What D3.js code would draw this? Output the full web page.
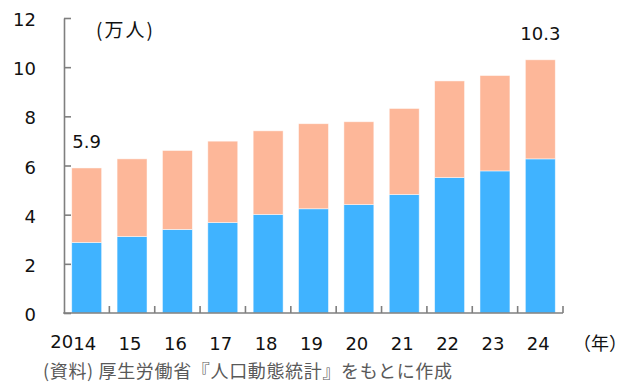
<!DOCTYPE html>
<html>
<head>
<meta charset="utf-8">
<script src="https://cdn.jsdelivr.net/npm/d3@7"></script>
<style>
  html, body { margin: 0; padding: 0; background: #fff; }
  svg { display: block; }
  .num { font-family: "DejaVu Sans", Verdana, sans-serif; font-size: 18px; fill: #111; }
  .jp { font-family: "Noto Sans CJK JP", sans-serif; fill: #111; }
</style>
</head>
<body>
<svg id="chart" width="632" height="382"></svg>
<script>
// Years shown on the horizontal axis
const years = [2014, 2015, 2016, 2017, 2018, 2019, 2020, 2021, 2022, 2023, 2024];
// Lower (blue) segment of each bar, 万人
const lowerValues = [2.87, 3.11, 3.40, 3.68, 4.01, 4.24, 4.41, 4.82, 5.51, 5.78, 6.27];
// Upper (salmon) segment of each bar, 万人
const upperValues = [3.03, 3.16, 3.21, 3.31, 3.40, 3.46, 3.37, 3.50, 3.93, 3.88, 4.03];
// Totals printed above the first and last bars
const totalLabels = [{ year: 2014, text: "5.9", value: 5.9 }, { year: 2024, text: "10.3", value: 10.3 }];
// Vertical tick values
const yTicks = [0, 2, 4, 6, 8, 10, 12];

const colors = { lower: "#40B3FF", upper: "#FDB799" };

const svg = d3.select("#chart");
const plotLeft = 64, plotRight = 563, plotTop = 18, plotBottom = 313;

const pad = 0.34;
const x = d3.scaleBand().domain(years).range([plotLeft, plotRight]).paddingInner(pad).paddingOuter(pad / 2);
const y = d3.scaleLinear().domain([0, 12]).range([plotBottom, plotTop]);

const rows = years.map((yr, i) => ({ year: yr, lower: lowerValues[i], upper: upperValues[i] }));
const layers = d3.stack().keys(["lower", "upper"])(rows);

// Stacked bars
svg.append("g").selectAll("g")
  .data(layers)
  .join("g")
    .attr("fill", d => colors[d.key])
  .selectAll("rect")
  .data(d => d)
  .join("rect")
    .attr("x", d => x(d.data.year))
    .attr("width", x.bandwidth())
    .attr("y", d => y(d[1]))
    .attr("height", d => y(d[0]) - y(d[1]))
    .attr("stroke", "#fff")
    .attr("stroke-opacity", 0.6)
    .attr("stroke-width", 0.8);

// Y axis with inward ticks
const yAxis = svg.append("g")
  .attr("transform", `translate(${plotLeft},0)`)
  .call(d3.axisLeft(y).tickValues(yTicks).tickSizeInner(-7).tickSizeOuter(0).tickPadding(28));
yAxis.attr("font-family", null).attr("font-size", null);
yAxis.select(".domain").attr("stroke", "#7f7f7f").attr("stroke-width", 1.6);
yAxis.selectAll(".tick line").attr("stroke", "#7f7f7f").attr("stroke-width", 1.6);
yAxis.selectAll(".tick text").attr("class", "num").attr("dy", "0.42em").attr("fill", null);

// X axis: baseline, category boundary ticks and labels
const step = x.step();
const boundaries = d3.range(1, years.length + 1).map(k => plotLeft + k * step);
const xAxis = svg.append("g").attr("transform", `translate(0,${plotBottom})`);
xAxis.append("line")
  .attr("x1", plotLeft - 0.8).attr("x2", plotRight)
  .attr("stroke", "#7f7f7f").attr("stroke-width", 1.6);
xAxis.selectAll("line.bt")
  .data(boundaries)
  .join("line")
    .attr("class", "bt")
    .attr("x1", d => d).attr("x2", d => d)
    .attr("y1", 0).attr("y2", -7)
    .attr("stroke", "#7f7f7f").attr("stroke-width", 1.6);

svg.append("g").selectAll("text")
  .data(years)
  .join("text")
    .attr("class", "num")
    .attr("x", d => x(d) + x.bandwidth() / 2 - 2)
    .attr("y", 350)
    .attr("text-anchor", "middle")
    .text(d => String(d).slice(2));

// Century prefix for the first year
svg.append("text")
  .attr("class", "num")
  .attr("x", x(years[0]) + x.bandwidth() / 2 - 2 - 11.5)
  .attr("y", 348)
  .attr("text-anchor", "end")
  .text(String(years[0]).slice(0, 2));

// Unit labels
svg.append("text").attr("class", "jp").attr("x", 96).attr("y", 37).attr("font-size", 19)
  .attr("textLength", 57).attr("lengthAdjust", "spacing").text("(万人)");
svg.append("text").attr("class", "jp").attr("x", 573).attr("y", 350).attr("font-size", 18).text("（年）");

// Total value labels
svg.append("g").selectAll("text")
  .data(totalLabels)
  .join("text")
    .attr("class", "num")
    .attr("x", d => x(d.year) + x.bandwidth() / 2)
    .attr("y", d => y(d.value) - 20)
    .attr("text-anchor", "middle")
    .text(d => d.text);

// Source note
svg.append("text")
  .attr("class", "jp")
  .attr("x", 43).attr("y", 378)
  .attr("font-size", 18)
  .attr("textLength", 409).attr("lengthAdjust", "spacing")
  .style("fill", "#595959")
  .text("(資料) 厚生労働省『人口動態統計』をもとに作成");
</script>
</body>
</html>
